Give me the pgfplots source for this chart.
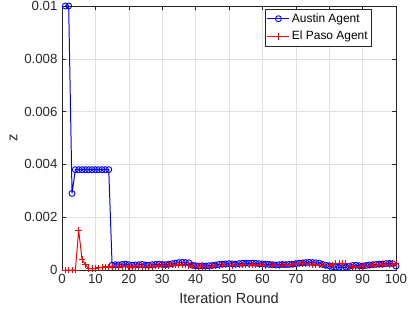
\documentclass[border=0pt]{standalone}
\usepackage{pgfplots}
\pgfplotsset{compat=1.18}
\usepackage{fontspec}
\setmainfont{Liberation Sans}
\pgfplotstableread{
x y
1 0.0100
2 0.0100
3 0.0029
4 0.0038
5 0.0038
6 0.0038
7 0.0038
8 0.0038
9 0.0038
10 0.0038
11 0.0038
12 0.0038
13 0.0038
14 0.0038
15 0.00018
16 0.00020
17 0.00019
18 0.00021
19 0.00022
20 0.00020
21 0.00018
22 0.00019
23 0.00020
24 0.00021
25 0.00019
26 0.00018
27 0.00020
28 0.00021
29 0.00022
30 0.00021
31 0.00020
32 0.00022
33 0.00024
34 0.00026
35 0.00028
36 0.00029
37 0.00028
38 0.00027
39 0.00018
40 0.00016
41 0.00015
42 0.00016
43 0.00015
44 0.00016
45 0.00017
46 0.00019
47 0.00021
48 0.00022
49 0.00023
50 0.00024
51 0.00023
52 0.00022
53 0.00024
54 0.00025
55 0.00026
56 0.00025
57 0.00026
58 0.00025
59 0.00024
60 0.00023
61 0.00022
62 0.00021
63 0.00020
64 0.00019
65 0.00020
66 0.00021
67 0.00020
68 0.00021
69 0.00022
70 0.00024
71 0.00026
72 0.00027
73 0.00028
74 0.00029
75 0.00028
76 0.00027
77 0.00026
78 0.00021
79 0.00018
80 0.00016
81 0.00013
82 0.00011
83 0.00010
84 0.00009
85 0.00011
86 0.00014
87 0.00017
88 0.00018
89 0.00016
90 0.00015
91 0.00017
92 0.00019
93 0.00020
94 0.00021
95 0.00022
96 0.00023
97 0.00024
98 0.00025
99 0.00024
100 0.00015
}\austin
\pgfplotstableread{
x y
1 0.0
2 0.0
3 0.0
4 0.0
5 0.0015
6 0.00040
7 0.00020
8 0.00006
9 0.00005
10 0.00006
11 0.00008
12 0.00010
13 0.00012
14 0.00011
15 0.00012
16 0.00013
17 0.00012
18 0.00013
19 0.00014
20 0.00012
21 0.00011
22 0.00012
23 0.00013
24 0.00014
25 0.00013
26 0.00012
27 0.00013
28 0.00015
29 0.00016
30 0.00017
31 0.00016
32 0.00017
33 0.00018
34 0.00019
35 0.00020
36 0.00019
37 0.00018
38 0.00017
39 0.00015
40 0.00014
41 0.00013
42 0.00014
43 0.00013
44 0.00014
45 0.00015
46 0.00016
47 0.00017
48 0.00018
49 0.00019
50 0.00018
51 0.00017
52 0.00018
53 0.00019
54 0.00020
55 0.00021
56 0.00020
57 0.00019
58 0.00020
59 0.00019
60 0.00018
61 0.00017
62 0.00018
63 0.00019
64 0.00018
65 0.00017
66 0.00018
67 0.00019
68 0.00020
69 0.00021
70 0.00022
71 0.00023
72 0.00024
73 0.00023
74 0.00022
75 0.00021
76 0.00020
77 0.00019
78 0.00018
79 0.00017
80 0.00016
81 0.00020
82 0.00024
83 0.00026
84 0.00025
85 0.00024
86 0.00014
87 0.00012
88 0.00011
89 0.00012
90 0.00013
91 0.00015
92 0.00017
93 0.00018
94 0.00019
95 0.00020
96 0.00021
97 0.00022
98 0.00021
99 0.00022
100 0.00023
}\elpaso
\begin{document}
\begin{tikzpicture}
\useasboundingbox (-62bp,-45bp) rectangle (349bp,270bp);
\begin{axis}[
  at={(0,0)}, anchor=south west,
  scale only axis,
  width=334bp, height=264bp,
  xmin=0, xmax=100, ymin=0, ymax=0.01,
  xtick={0,10,...,100},
  ytick={0,0.002,0.004,0.006,0.008,0.01},
  yticklabels={0,0.002,0.004,0.006,0.008,0.01},
  scaled y ticks=false,
  /pgf/number format/assume math mode=true,
  tick label style={font=\fontsize{13.3}{15}\selectfont, text=black!85},
  label style={font=\fontsize{14.6}{16}\selectfont, text=black!85},
  xticklabel style={yshift=-1bp},
  yticklabel style={xshift=-1bp},
  xlabel={Iteration Round},
  xlabel style={yshift=-2bp},
  ylabel={z},
  grid=major,
  major grid style={black!12, line width=0.5pt},
  tick align=inside,
  tick pos=both,
  major tick length=4bp,
  axis line style={black!85, line width=0.6pt},
  every tick/.style={black!85, line width=0.5pt},
  legend style={at={(0.928,0.989)}, anchor=north east, font=\fontsize{12}{13}\selectfont, draw=black!85, line width=0.5pt, inner xsep=2bp, inner ysep=2.5bp, row sep=3.5bp},
  legend image code/.code={\draw[mark repeat=2, mark phase=2, #1] plot coordinates {(0bp,0bp) (11bp,0bp) (22bp,0bp)};},
  legend cell align=left,
  clip=false,
]
\addplot[blue, line width=1pt, mark=o, mark size=3bp, mark options={line width=0.9pt}] table[x=x,y=y] {\austin};
\addlegendentry{Austin Agent}
\addplot[red, line width=1pt, mark=+, mark size=3.2bp, mark options={line width=0.9pt}] table[x=x,y=y] {\elpaso};
\addlegendentry{El Paso Agent}
\end{axis}
\end{tikzpicture}
\end{document}
